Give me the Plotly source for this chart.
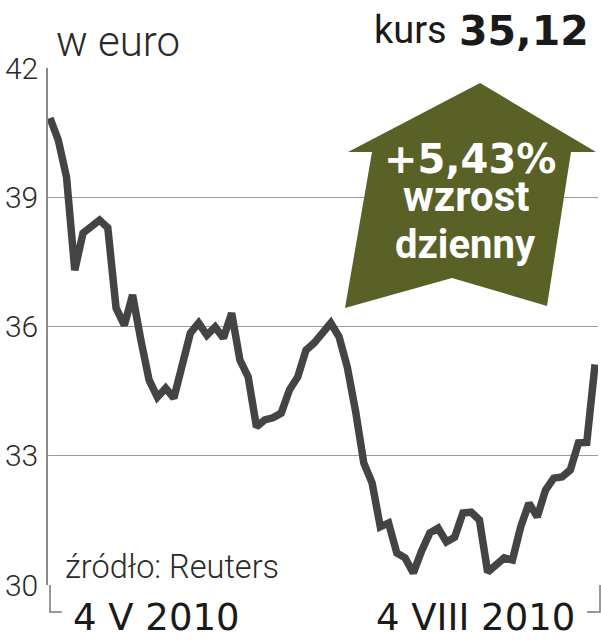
import plotly.graph_objects as go
import pandas as pd

# Business days between 4 V 2010 and 4 VIII 2010
dates = [d.strftime("%Y-%m-%d") for d in pd.bdate_range("2010-05-04", "2010-08-04")]

prices = [
    40.84, 40.33, 39.47, 37.31, 38.17, 38.31, 38.47, 38.29, 36.43, 36.03,
    36.73, 35.69, 34.76, 34.36, 34.57, 34.34, 35.04, 35.85, 36.08, 35.80,
    35.99, 35.73, 36.31, 35.22, 34.83, 33.67, 33.83, 33.88, 33.99, 34.53,
    34.83, 35.45, 35.62, 35.85, 36.08, 35.76, 35.06, 34.04, 32.83, 32.37,
    31.35, 31.44, 30.74, 30.63, 30.28, 30.79, 31.21, 31.32, 31.00, 31.11,
    31.67, 31.69, 31.51, 30.30, 30.46, 30.63, 30.58, 31.35, 31.90, 31.58,
    32.20, 32.48, 32.51, 32.67, 33.30, 33.31, 35.12,
]

y_ticks = [30, 33, 36, 39, 42]
y_tick_labels = ["30", "33", "36", "39", "42"]
unit_label = "w euro"
price_prefix = "kurs"
last_price_label = "35,12"
change_label = "+5,43%"
change_text = ["wzrost", "dzienny"]
source_label = "źródło: Reuters"
start_label = "4 V 2010"
end_label = "4 VIII 2010"

W, H = 601, 640
ML, MR, MT, MB = 48, 3, 68, 55
PW, PH = W - ML - MR, H - MT - MB


def px(x):
    return (x - ML) / PW


def py(y):
    return (H - MB - y) / PH


LIGHT = "Roboto"
WIDE = "DejaVu Sans"
fig = go.Figure()

fig.add_trace(go.Scatter(
    x=dates, y=prices, mode="lines",
    line=dict(color="#444444", width=7.5),
    hoverinfo="skip", showlegend=False, cliponaxis=False,
))

# arrow polygon in pixel coordinates
arrow_pts = [(480, 83), (596, 152), (571, 152), (547, 306), (452, 278),
             (345, 308), (372, 152), (348, 152)]
path = "M " + " L ".join(f"{px(a):.4f},{py(b):.4f}" for a, b in arrow_pts) + " Z"

shapes = [
    dict(type="path", path=path, xref="paper", yref="paper",
         fillcolor="#596127", line=dict(width=0), layer="above"),
    # bottom brackets
    dict(type="path", xref="paper", yref="paper",
         path=f"M {px(50)},{py(585)} L {px(50)},{py(612)} L {px(62)},{py(612)}",
         line=dict(color="#777777", width=1.5)),
    dict(type="path", xref="paper", yref="paper",
         path=f"M {px(600)},{py(585)} L {px(600)},{py(612)} L {px(587)},{py(612)}",
         line=dict(color="#777777", width=1.5)),
]

annotations = [
    dict(text=unit_label, x=px(54), y=py(41), xanchor="left", yanchor="middle",
         font=dict(family=LIGHT, size=42, color="#2a2a2a", weight=300)),
    dict(text=price_prefix, x=px(449), y=py(30), xanchor="right", yanchor="middle",
         font=dict(family=LIGHT, size=38, color="#1a1a1a")),
    dict(text=f"<b>{last_price_label}</b>", x=px(591), y=py(31), xanchor="right",
         yanchor="middle", font=dict(family=WIDE, size=41, color="#1a1a1a")),
    dict(text=f"<b>{change_label}</b>", x=px(470), y=py(159), xanchor="center",
         yanchor="middle", font=dict(family=WIDE, size=40, color="white")),
    dict(text=f"<b>{change_text[0]}</b>", x=px(466), y=py(196), xanchor="center",
         yanchor="middle", font=dict(family=LIGHT, size=42, color="white")),
    dict(text=f"<b>{change_text[1]}</b>", x=px(465), y=py(244), xanchor="center",
         yanchor="middle", font=dict(family=LIGHT, size=40, color="white")),
    dict(text=source_label, x=px(63), y=py(567), xanchor="left", yanchor="middle",
         font=dict(family=LIGHT, size=32.5, color="#2a2a2a", weight=300)),
    dict(text=start_label, x=px(71), y=py(617), xanchor="left", yanchor="middle",
         font=dict(family=WIDE, size=37, color="#1a1a1a")),
    dict(text=end_label, x=px(577), y=py(617), xanchor="right", yanchor="middle",
         font=dict(family=WIDE, size=37, color="#1a1a1a")),
]
for a in annotations:
    a.update(xref="paper", yref="paper", showarrow=False)

fig.update_layout(
    width=W, height=H,
    margin=dict(l=ML, r=MR, t=MT, b=MB, autoexpand=False),
    paper_bgcolor="white", plot_bgcolor="white",
    shapes=shapes, annotations=annotations,
    xaxis=dict(type="category", range=[-0.242, 66.36], showticklabels=False,
               showgrid=False, zeroline=False, showline=False, fixedrange=True,
               automargin=False),
    yaxis=dict(range=[30, 42], tickvals=y_ticks, ticktext=y_tick_labels,
               showgrid=True, gridcolor="#9c9c9c", gridwidth=1.3,
               zeroline=False, showline=True, linecolor="#8a8a8a", linewidth=1.5,
               ticks="", ticklabelstandoff=2, automargin=False,
               tickfont=dict(family=LIGHT, size=30, color="#2a2a2a", weight=300),
               fixedrange=True),
)

fig.write_html(
    "out.html",
    config={"displayModeBar": False},
    post_script="document.body.style.margin='0';document.body.style.overflow='hidden';",
)
